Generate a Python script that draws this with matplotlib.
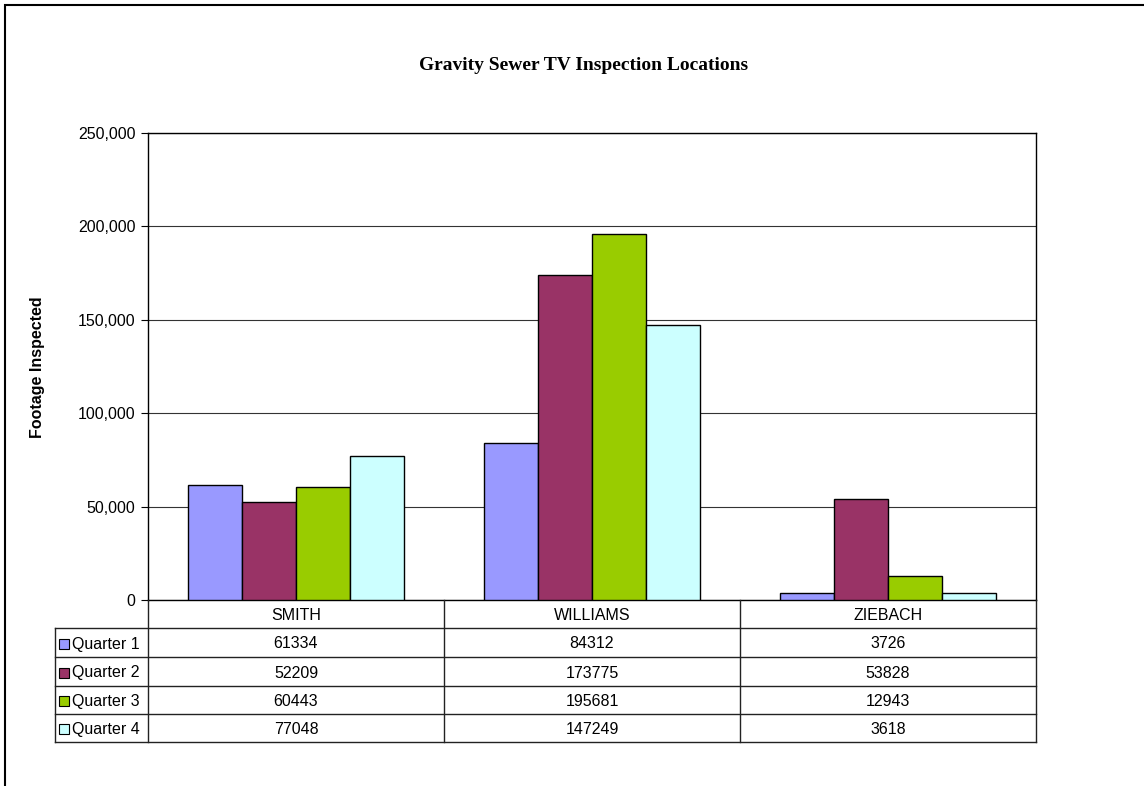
import matplotlib.pyplot as plt
from matplotlib.patches import Rectangle
from matplotlib.ticker import FuncFormatter
import numpy as np

W, H = 1144, 786

categories = ["SMITH", "WILLIAMS", "ZIEBACH"]
series_names = ["Quarter 1", "Quarter 2", "Quarter 3", "Quarter 4"]
q1 = [61334, 84312, 3726]
q2 = [52209, 173775, 53828]
q3 = [60443, 195681, 12943]
q4 = [77048, 147249, 3618]
series = [q1, q2, q3, q4]
colors = ["#9999FF", "#993366", "#99CC00", "#CCFFFF"]
yticks = [0, 50000, 100000, 150000, 200000, 250000]

plt.rcParams["font.family"] = ["Liberation Sans", "DejaVu Sans"]
FS = 11.5


def fx(px):
    return px / W


def fy(py):
    return 1 - py / H


fig = plt.figure(figsize=(W / 100, H / 100), dpi=100)

# outer chart border (right/bottom edges sit outside the picture)
fig.patches.append(Rectangle((fx(5), fy(H + 10)), fx(W + 20), (H + 5) / H,
                             transform=fig.transFigure, fill=False,
                             edgecolor="black", linewidth=1.5))

# plot area
x0, x1, y0, y1 = 148, 1036, 133, 600
ax = fig.add_axes([fx(x0), fy(y1), fx(x1 - x0), (y1 - y0) / H])

bw = 0.1824
x = np.arange(len(categories))
for i, (vals, c) in enumerate(zip(series, colors)):
    ax.bar(x + (i - 1.5) * bw, vals, width=bw, color=c,
           edgecolor="black", linewidth=1, zorder=3)

ax.set_xlim(-0.5, len(categories) - 0.5)
ax.set_ylim(0, 250000)
ax.set_yticks(yticks)
ax.yaxis.set_major_formatter(FuncFormatter(lambda v, p: f"{int(v):,}"))
ax.tick_params(axis="y", direction="out", length=5, labelsize=FS, pad=4)
ax.set_xticks([])
ax.grid(axis="y", color="#333333", linewidth=0.8, zorder=0)
for s in ax.spines.values():
    s.set_linewidth(1)
    s.set_color("black")

fig.text(fx(38), fy(367), "Footage Inspected", rotation=90,
         ha="center", va="center", fontsize=FS, fontweight="bold")

fig.text(fx(584), fy(66), "Gravity Sewer TV Inspection Locations",
         ha="center", va="center", fontsize=14, fontweight="bold",
         family=["Liberation Serif", "DejaVu Serif"])

# data table
col_edges = [148, 444, 740, 1036]
row_edges = [600, 628, 657, 686, 714, 742]
leg_x = 55


def hline(xa, xb, y, lw=1.0, color="#222222"):
    fig.add_artist(plt.Line2D([fx(xa), fx(xb)], [fy(y), fy(y)],
                              transform=fig.transFigure, color=color, linewidth=lw))


def vline(x_, ya, yb, lw=1.0, color="#222222"):
    fig.add_artist(plt.Line2D([fx(x_), fx(x_)], [fy(ya), fy(yb)],
                              transform=fig.transFigure, color=color, linewidth=lw))


for y in row_edges[1:]:
    hline(leg_x, col_edges[-1], y)
for xe in col_edges:
    vline(xe, row_edges[0], row_edges[-1])
vline(leg_x, row_edges[1], row_edges[-1])

for j, cat in enumerate(categories):
    cx = (col_edges[j] + col_edges[j + 1]) / 2
    cy = (row_edges[0] + row_edges[1]) / 2
    fig.text(fx(cx), fy(cy), cat, ha="center", va="center_baseline", fontsize=FS)

for i, (name, vals, c) in enumerate(zip(series_names, series, colors)):
    cy = (row_edges[i + 1] + row_edges[i + 2]) / 2
    fig.patches.append(Rectangle((fx(59), fy(cy + 6)), fx(10), 10 / H,
                                 transform=fig.transFigure, facecolor=c,
                                 edgecolor="black", linewidth=0.8))
    fig.text(fx(72), fy(cy), name, ha="left", va="center_baseline", fontsize=FS)
    for j, v in enumerate(vals):
        cx = (col_edges[j] + col_edges[j + 1]) / 2
        fig.text(fx(cx), fy(cy), str(v), ha="center", va="center_baseline", fontsize=FS)

fig.savefig("out.png", dpi=100)
